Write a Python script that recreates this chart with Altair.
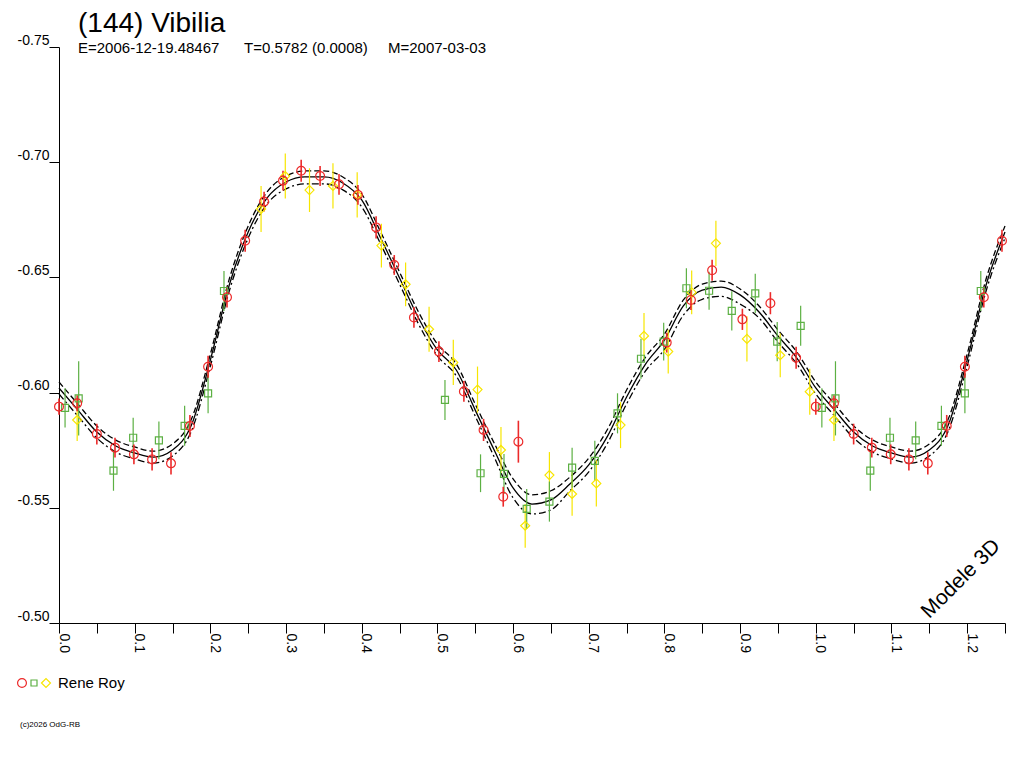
import altair as alt
import pandas as pd

FONT = 'Liberation Sans'
RED = '#ec2a2a'
GREEN = '#5cb043'
YELLOW = '#f7e600'

TITLE = '(144) Vibilia'
SUB_E = 'E=2006-12-19.48467'
SUB_T = 'T=0.5782 (0.0008)'
SUB_M = 'M=2007-03-03'
OBSERVER = 'Rene Roy'
MODEL_LABEL = 'Modele 3D'
COPYRIGHT = '(c)2026 OdG-RB'

# model light curve, phase step 0.025 from 0 to 1
MODEL_PHASE = [i / 40 for i in range(41)]
MODEL_MID = [-0.6020, -0.5924, -0.5829, -0.5768, -0.5738, -0.5720, -0.5751, -0.5859,
             -0.6141, -0.6467, -0.6697, -0.6845, -0.6914, -0.6936, -0.6936, -0.6910,
             -0.6836, -0.6671, -0.6497, -0.6324, -0.6185, -0.6098, -0.5924, -0.5751,
             -0.5586, -0.5516, -0.5534, -0.5603, -0.5686, -0.5812, -0.5981, -0.6124,
             -0.6228, -0.6376, -0.6445, -0.6458, -0.6424, -0.6350, -0.6246, -0.6150,
             -0.6020]
MODEL_UP = [-0.6046, -0.5950, -0.5855, -0.5794, -0.5764, -0.5746, -0.5777, -0.5885,
            -0.6167, -0.6493, -0.6723, -0.6871, -0.6940, -0.6962, -0.6962, -0.6936,
            -0.6862, -0.6697, -0.6523, -0.6350, -0.6211, -0.6124, -0.5950, -0.5781,
            -0.5626, -0.5556, -0.5574, -0.5633, -0.5716, -0.5842, -0.6011, -0.6154,
            -0.6254, -0.6402, -0.6471, -0.6484, -0.6450, -0.6376, -0.6272, -0.6176,
            -0.6046]
MODEL_LOW = [-0.5994, -0.5898, -0.5803, -0.5742, -0.5712, -0.5694, -0.5725, -0.5833,
             -0.6115, -0.6441, -0.6671, -0.6819, -0.6884, -0.6906, -0.6906, -0.6880,
             -0.6806, -0.6645, -0.6471, -0.6298, -0.6159, -0.6072, -0.5898, -0.5721,
             -0.5543, -0.5473, -0.5491, -0.5573, -0.5656, -0.5782, -0.5951, -0.6094,
             -0.6188, -0.6336, -0.6405, -0.6418, -0.6384, -0.6324, -0.6220, -0.6124,
             -0.5994]

# observations, session 1 (red circles)
RED_PHASE = [0.000, 0.024, 0.050, 0.074, 0.099, 0.123, 0.148, 0.173, 0.197, 0.222,
             0.246, 0.271, 0.296, 0.320, 0.345, 0.370, 0.395, 0.419, 0.443, 0.469,
             0.502, 0.535, 0.561, 0.607, 0.587, 0.803, 0.835, 0.863, 0.903, 0.940,
             0.974]
RED_MAG = [-0.5939, -0.5954, -0.5820, -0.5761, -0.5732, -0.5710, -0.5693, -0.5855,
           -0.6112, -0.6414, -0.6659, -0.6829, -0.6920, -0.6963, -0.6940, -0.6904,
           -0.6858, -0.6717, -0.6554, -0.6326, -0.6178, -0.6005, -0.5838, -0.5787,
           -0.5548, -0.6217, -0.6402, -0.6531, -0.6318, -0.6388, -0.6151]
RED_ERR = [0.0035, 0.0035, 0.0045, 0.0043, 0.0043, 0.0048, 0.0048, 0.0048, 0.0048,
           0.0045, 0.0048, 0.0043, 0.0043, 0.0048, 0.0043, 0.0045, 0.0043, 0.0048,
           0.0043, 0.0045, 0.0045, 0.0045, 0.0048, 0.0091, 0.0043, 0.0043, 0.0043,
           0.0046, 0.0046, 0.0048, 0.0048]

# session 2 (green squares)
GREEN_PHASE = [0.008, 0.026, 0.072, 0.098, 0.132, 0.166, 0.197, 0.218, 0.510, 0.557,
               0.588, 0.618, 0.648, 0.678, 0.708, 0.738, 0.769, 0.799, 0.829, 0.859,
               0.889, 0.920, 0.949, 0.980]
GREEN_MAG = [-0.5934, -0.5975, -0.5661, -0.5804, -0.5793, -0.5856, -0.5997, -0.6441,
             -0.5968, -0.5650, -0.5647, -0.5495, -0.5527, -0.5674, -0.5704, -0.5910,
             -0.6147, -0.6221, -0.6453, -0.6442, -0.6355, -0.6431, -0.6221, -0.6290]
GREEN_ERR = [0.0085, 0.0161, 0.0087, 0.0087, 0.0082, 0.0087, 0.0087, 0.0087, 0.0087,
             0.0082, 0.0087, 0.0087, 0.0087, 0.0087, 0.0087, 0.0087, 0.0087, 0.0082,
             0.0087, 0.0082, 0.0085, 0.0085, 0.0085, 0.0087]

# session 3 (yellow diamonds)
YELLOW_PHASE = [0.024, 0.267, 0.299, 0.331, 0.362, 0.394, 0.426, 0.458, 0.489, 0.521,
                0.553, 0.584, 0.616, 0.648, 0.678, 0.710, 0.742, 0.773, 0.805, 0.836,
                0.868, 0.909, 0.953, 0.992]
YELLOW_MAG = [-0.5881, -0.6797, -0.6940, -0.6879, -0.6897, -0.6858, -0.6638, -0.6470,
              -0.6275, -0.6131, -0.6013, -0.5751, -0.5422, -0.5642, -0.5560, -0.5606,
              -0.5859, -0.6246, -0.6178, -0.6435, -0.6648, -0.6233, -0.6162, -0.6004]
YELLOW_ERR = [0.0091, 0.0100, 0.0098, 0.0095, 0.0098, 0.0098, 0.0095, 0.0095, 0.0098,
              0.0098, 0.0100, 0.0100, 0.0095, 0.0100, 0.0095, 0.0100, 0.0100, 0.0100,
              0.0095, 0.0095, 0.0098, 0.0098, 0.0095, 0.0100]

X_TICKS = [round(i * 0.05, 2) for i in range(26)]
Y_TICKS = [-0.75, -0.70, -0.65, -0.60, -0.55, -0.50]

W, H = 946, 576


def wrap(df):
    # the plot shows phase 0..1.25, so the first quarter is repeated after 1
    extra = df[df['phase'] <= 0.25].copy()
    extra['phase'] = extra['phase'] + 1
    out = pd.concat([df, extra], ignore_index=True)
    return out.drop_duplicates(subset='phase').sort_values('phase')


x_scale = alt.Scale(domain=[0, 1.25], nice=False, zero=False)
y_scale = alt.Scale(domain=[-0.75, -0.50], reverse=True, nice=False, zero=False)

x_axis = alt.Axis(values=X_TICKS, labelExpr="round(datum.value * 20) % 2 == 0 ? format(datum.value, '.1f') : ''",
                  labelAngle=90, labelAlign='left', labelBaseline='alphabetic', labelPadding=0,
                  tickSize=10, title=None, grid=False, labelOverlap=False, labelFlush=False,
                  labelBound=False)
y_axis = alt.Axis(values=Y_TICKS, labelExpr="'-' + format(abs(datum.value), '.2f')",
                  labelBaseline='bottom', labelPadding=0, tickSize=10, title=None, grid=False,
                  labelOverlap=False, labelFlush=False, labelBound=False)

X = alt.X('phase:Q', scale=x_scale, axis=x_axis)
Y = alt.Y('mag:Q', scale=y_scale, axis=y_axis)


def model_line(values, dash):
    df = wrap(pd.DataFrame({'phase': MODEL_PHASE, 'mag': values}))
    kw = dict(color='black', strokeWidth=1.3, interpolate='monotone')
    if dash:
        kw['strokeDash'] = dash
    return alt.Chart(df).mark_line(**kw).encode(x=X, y=Y)


def series(phase, mag, err, color, shape, size, width):
    df = pd.DataFrame({'phase': phase, 'mag': mag, 'err': err})
    df['lo'] = df['mag'] - df['err']
    df['hi'] = df['mag'] + df['err']
    df = wrap(df)
    bars = alt.Chart(df).mark_rule(color=color, strokeWidth=width).encode(
        x=X, y=alt.Y('lo:Q', scale=y_scale, axis=y_axis), y2='hi:Q')
    pts = alt.Chart(df).mark_point(shape=shape, filled=False, size=size, color=color,
                                   strokeWidth=1.2, opacity=1).encode(x=X, y=Y)
    return bars, pts


def label(text, x, y, size, align='left', baseline='alphabetic', angle=0):
    return alt.Chart(pd.DataFrame({'t': [text]})).mark_text(
        font=FONT, fontSize=size, color='black', align=align, baseline=baseline, angle=angle
    ).encode(x=alt.value(x), y=alt.value(y), text='t:N')


def legend_symbol(x, shape, size, color):
    return alt.Chart(pd.DataFrame({'t': [0]})).mark_point(
        shape=shape, filled=False, size=size, color=color, strokeWidth=1.2, opacity=1
    ).encode(x=alt.value(x), y=alt.value(636))


red_bars, red_pts = series(RED_PHASE, RED_MAG, RED_ERR, RED, 'circle', 78, 1.6)
green_bars, green_pts = series(GREEN_PHASE, GREEN_MAG, GREEN_ERR, GREEN, 'square', 49, 1.2)
yellow_bars, yellow_pts = series(YELLOW_PHASE, YELLOW_MAG, YELLOW_ERR, YELLOW, 'diamond', 81, 1.2)

chart = alt.layer(
    model_line(MODEL_UP, [6, 3]),
    model_line(MODEL_MID, None),
    model_line(MODEL_LOW, [7, 3, 2, 3]),
    yellow_bars, green_bars, red_bars,
    yellow_pts, green_pts, red_pts,
    label(TITLE, 19, -15, 28),
    label(SUB_E, 19, 6, 15),
    label(SUB_T, 185, 6, 15),
    label(SUB_M, 329, 6, 15),
    label(MODEL_LABEL, 902, 532, 21, align='center', baseline='middle', angle=315),
    legend_symbol(-37, 'circle', 78, RED),
    legend_symbol(-25, 'square', 36, GREEN),
    legend_symbol(-13, 'diamond', 81, YELLOW),
    label(OBSERVER, -1, 641, 15),
    label(COPYRIGHT, -39, 680, 8),
).properties(
    width=W, height=H,
    autosize=alt.AutoSizeParams(type='none'),
    padding={'left': 51, 'top': 39, 'right': 11, 'bottom': 137},
).configure_view(
    stroke=None
).configure_axis(
    domainColor='black', tickColor='black', labelColor='black',
    labelFont=FONT, labelFontSize=14, domainWidth=1, tickWidth=1
)

chart.save('out.html', embed_options={'renderer': 'svg', 'actions': False})
